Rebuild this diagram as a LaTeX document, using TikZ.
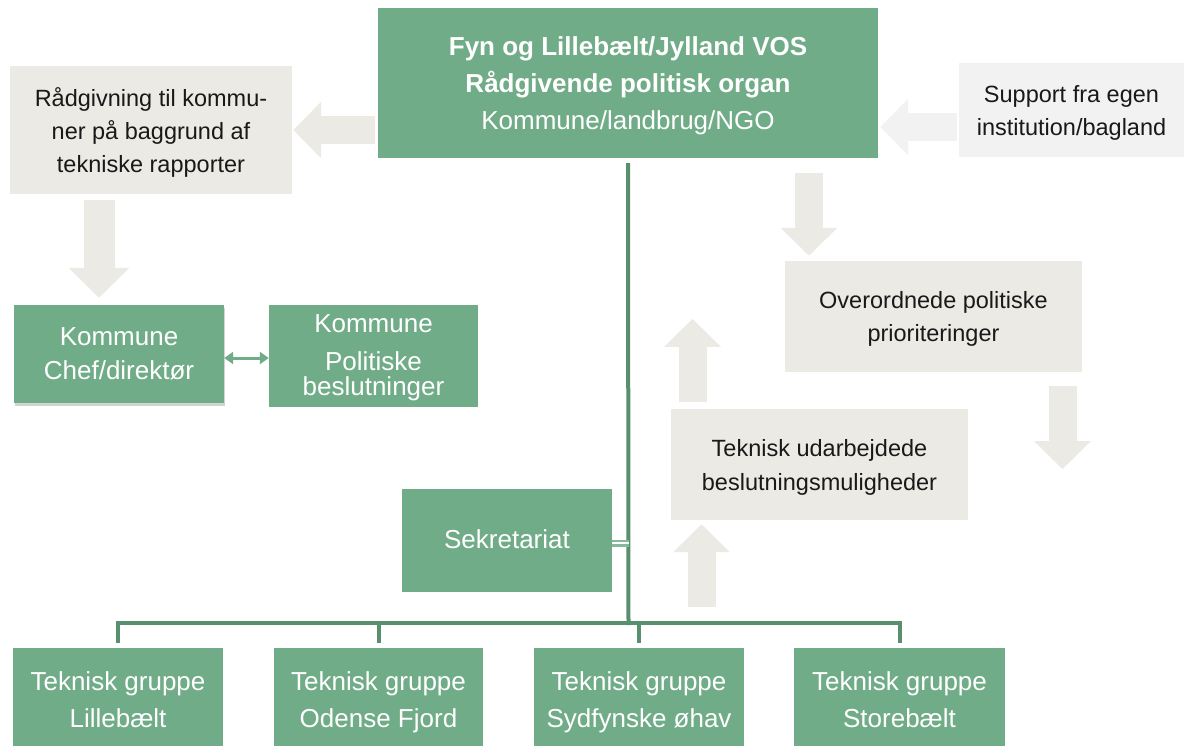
\documentclass[tikz,border=0pt]{standalone}
\usepackage{fontspec}
\setmainfont{Liberation Sans}
\usepackage{tikz}
\usetikzlibrary{arrows.meta}
\usetikzlibrary{shadows}

\definecolor{vosgreen}{RGB}{113,172,137}
\definecolor{linegreen}{RGB}{88,143,108}
\definecolor{beige}{RGB}{235,234,228}
\definecolor{lightgrey}{RGB}{242,242,242}

\begin{document}
\begin{tikzpicture}[x=1pt, y=-1pt]
    \tikzset{greenbox/.style = {rectangle, fill=vosgreen, text=white, align=center, inner sep=0pt, font=\fontsize{26}{37.5}\selectfont, text depth=0pt}}
    \tikzset{greybox/.style = {rectangle, fill=beige, text=black!90, align=center, inner sep=0pt, font=\fontsize{23.5}{33}\selectfont, text depth=-7pt}}
    \tikzset{blockarrow/.style = {draw=beige, line width=28pt, -{Triangle[length=28pt, width=55pt]}}}
    \tikzset{tree/.style = {draw=linegreen, line width=4pt}}

    \useasboundingbox (0,0) rectangle (1184,745);

    % boxes
    \node[greenbox, minimum width=500pt, minimum height=150pt, font=\fontsize{26}{36.7}\selectfont] (vos) at (628,83)
      {\bfseries Fyn og Lillebælt/Jylland VOS\\
       \bfseries Rådgivende politisk organ\\
       Kommune/landbrug/NGO};
    \node[greybox, minimum width=282pt, minimum height=128pt] (raad) at (151,130)
      {Rådgivning til kommu-\\ner på baggrund af\\tekniske rapporter};
    \node[greybox, fill=lightgrey, minimum width=225pt, minimum height=94pt, text depth=-13pt] (support) at (1071.5,110)
      {Support fra egen\\institution/bagland};
    \node[greenbox, minimum width=210pt, minimum height=98pt, font=\fontsize{26}{34}\selectfont, text depth=-3pt,
      drop shadow={shadow xshift=1pt, shadow yshift=-3pt, opacity=0.35}] (chef) at (119,354)
      {Kommune\\Chef/direktør};
    \node[greenbox, minimum width=209pt, minimum height=102pt, font=\fontsize{26}{32}\selectfont, text depth=2pt] (pol) at (373.5,356)
      {Kommune\\[6.3pt]Politiske\\[-7pt]beslutninger};
    \node[greybox, minimum width=297pt, minimum height=111pt, text depth=-9pt] (ov) at (933.5,316.5)
      {Overordnede politiske\\prioriteringer};
    \node[greybox, minimum width=297pt, minimum height=111pt, font=\fontsize{23.5}{34}\selectfont, text depth=-11pt] (tek) at (819.5,464.5)
      {Teknisk udarbejdede\\beslutningsmuligheder};
    \node[greenbox, minimum width=210pt, minimum height=103pt, text depth=2pt] (sek) at (507,540.5) {Sekretariat};

    \node[greenbox, minimum width=210pt, minimum height=103pt] (g1) at (118,699.5) {Teknisk gruppe\\Lillebælt};
    \node[greenbox, minimum width=209pt, minimum height=103pt] (g2) at (378.5,699.5) {Teknisk gruppe\\Odense Fjord};
    \node[greenbox, minimum width=210pt, minimum height=103pt] (g3) at (639,699.5) {Teknisk gruppe\\Sydfynske øhav};
    \node[greenbox, minimum width=211pt, minimum height=103pt] (g4) at (899.5,699.5) {Teknisk gruppe\\Storebælt};

    \coordinate (bus) at (628.5,623);

    % arrows
    \draw[blockarrow, shorten <=3pt, shorten >=1pt] (vos.west |- raad.east) -- (raad.east);
    \draw[blockarrow, draw=lightgrey, shorten <=2pt, shorten >=2pt] ([yshift=-17pt]support.west) -- ([yshift=-17pt]support.west -| vos.east);
    \draw[blockarrow, line width=31pt, -{Triangle[length=30pt, width=59pt]}, shorten <=6pt, shorten >=7pt]
      ([xshift=-52pt]raad.south) -- ([xshift=-52pt]raad.south |- chef.north);
    \draw[blockarrow, shorten <=15pt, shorten >=5pt] ([xshift=-124.5pt]ov.north |- vos.south) -- ([xshift=-124.5pt]ov.north);
    \draw[blockarrow] ([xshift=-127pt, yshift=7pt]tek.north) -- ++(0,-83);
    \draw[blockarrow] ([xshift=129pt, yshift=-14pt]ov.south) -- ++(0,83);
    \draw[blockarrow] ([xshift=-118pt, yshift=-87pt]tek.south) -- ([xshift=-118pt, yshift=-4pt]tek.south);
    \draw[draw=vosgreen, line width=3pt, {Triangle[length=9pt, width=12pt]}-{Triangle[length=9pt, width=12pt]}]
      ([yshift=-4pt]chef.east) -- ([yshift=-4pt]chef.east -| pol.west);

    % lines
    \draw[tree] ([yshift=-5pt]vos.south) -- ([yshift=-2pt]bus);
    \draw[tree] ([yshift=5pt]g1.north) -- (g1.north |- bus) -- (g4.north |- bus) -- ([yshift=5pt]g4.north);
    \foreach \g in {g2,g3}
      \draw[tree] (\g.north |- bus) -- ([yshift=5pt]\g.north);
    \draw[draw=vosgreen!85!white, line width=2.5pt, double=white, double distance=2pt]
      ([yshift=-2.5pt]sek.east) -- ([yshift=-2.5pt]sek.east -| bus);
\end{tikzpicture}
\end{document}
